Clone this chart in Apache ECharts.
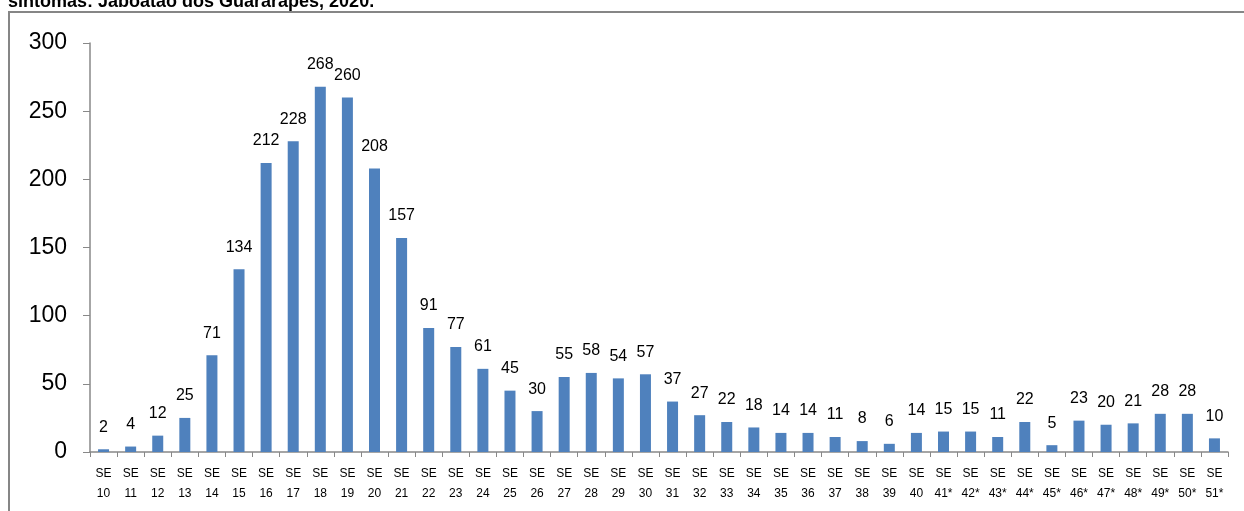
<!DOCTYPE html>
<html><head><meta charset="utf-8">
<script src="https://cdn.jsdelivr.net/npm/echarts@6/dist/echarts.min.js"></script>
<style>html,body{margin:0;padding:0;background:#fff}#c{width:1244px;height:511px}</style>
</head><body><div id="c"></div>
<script>
const titleText = 'sintomas: Jaboatão dos Guararapes, 2020.';
const weeks = ['10','11','12','13','14','15','16','17','18','19','20','21','22','23','24','25','26','27','28','29','30','31','32','33','34','35','36','37','38','39','40','41*','42*','43*','44*','45*','46*','47*','48*','49*','50*','51*'];
const categories = weeks.map(w => 'SE\n' + w);
const cases = [2,4,12,25,71,134,212,228,268,260,208,157,91,77,61,45,30,55,58,54,57,37,27,22,18,14,14,11,8,6,14,15,15,11,22,5,23,20,21,28,28,10];
const yTicks = [0,50,100,150,200,250,300];

const chart = echarts.init(document.getElementById('c'));
chart.setOption({
  animation: false,
  textStyle: {fontFamily: 'Liberation Sans, Arial, sans-serif'},
  graphic: [
    {type: 'rect', shape: {x: 9, y: 12, width: 1400, height: 700}, style: {fill: 'none', stroke: '#868686', lineWidth: 2}, z: 1},
    {type: 'text', x: 8, y: 11, z: 2, style: {text: titleText, font: 'bold 18px Liberation Sans, Arial, sans-serif', fill: '#000', verticalAlign: 'bottom'}}
  ],
  grid: {left: 90, right: 16, top: 43, bottom: 59, containLabel: false},
  xAxis: {
    type: 'category', data: categories,
    axisLine: {lineStyle: {color: '#888', width: 1.5}},
    axisTick: {show: true, length: 5, alignWithLabel: false, lineStyle: {color: '#888'}},
    axisLabel: {color: '#000', fontSize: 12, lineHeight: 20, margin: 12, interval: 0}
  },
  yAxis: {
    type: 'value', min: 0, max: 300, interval: 50,
    axisLine: {show: true, lineStyle: {color: '#888', width: 1.5}},
    axisTick: {show: true, length: 7, lineStyle: {color: '#888'}},
    splitLine: {show: false},
    axisLabel: {color: '#000', fontSize: 23, margin: 23,
      formatter: v => yTicks.includes(v) ? String(v) : ''}
  },
  series: [{
    type: 'bar', data: cases, barWidth: 11,
    itemStyle: {color: '#4F81BD'},
    label: {show: true, position: 'top', distance: 14, color: '#000', fontSize: 16}
  }]
});
</script></body></html>
